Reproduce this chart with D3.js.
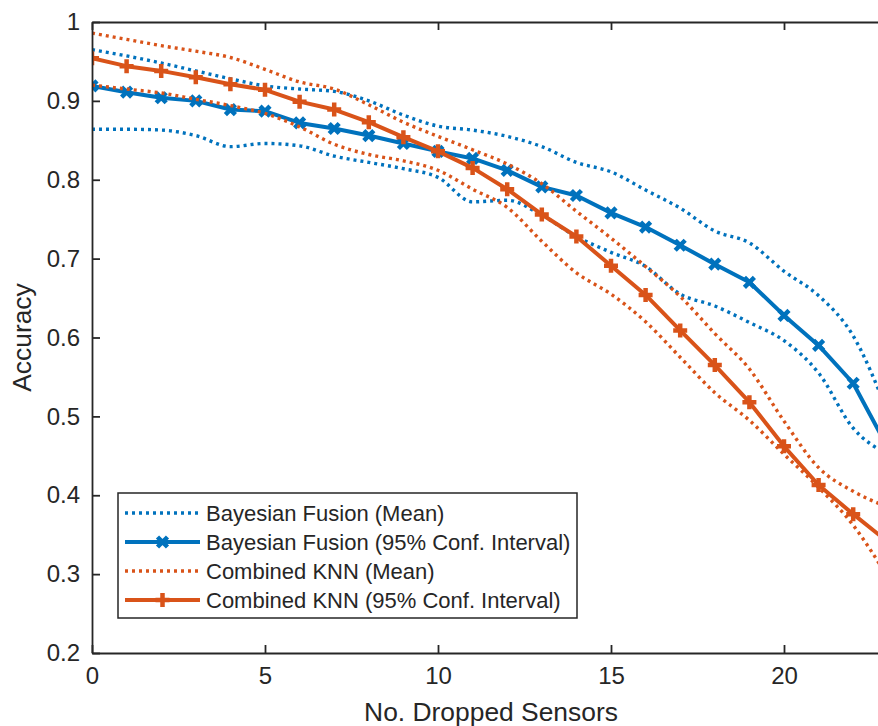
<!DOCTYPE html>
<html>
<head>
<meta charset="utf-8">
<script src="https://cdn.jsdelivr.net/npm/d3@7"></script>
<style>
  body { margin: 0; background: #fff; }
  svg { display: block; overflow: hidden; }
  text { font-family: "Liberation Sans", Arial, sans-serif; fill: #262626; }
</style>
</head>
<body>
<svg id="chart" width="878" height="726"></svg>
<script>
// dropped sensors (x)
var drops = [0,1,2,3,4,5,6,7,8,9,10,11,12,13,14,15,16,17,18,19,20,21,22,23]

// Bayesian fusion
var bayesUpper = [0.965,0.957,0.948,0.938,0.928,0.919,0.915,0.912,0.900,0.882,0.868,0.863,0.855,0.842,0.822,0.810,0.787,0.764,0.735,0.720,0.684,0.653,0.602,0.505]
var bayesMid   = [0.919,0.911,0.904,0.900,0.889,0.887,0.872,0.865,0.856,0.846,0.836,0.827,0.812,0.791,0.780,0.758,0.740,0.717,0.693,0.670,0.628,0.590,0.542,0.460]
var bayesLower = [0.864,0.864,0.863,0.856,0.842,0.846,0.843,0.830,0.822,0.814,0.803,0.772,0.774,0.755,0.728,0.708,0.690,0.655,0.640,0.619,0.596,0.555,0.485,0.452]

// combined KNN
var knnUpper = [0.986,0.978,0.970,0.963,0.955,0.940,0.924,0.915,0.895,0.873,0.855,0.838,0.820,0.795,0.760,0.726,0.690,0.652,0.605,0.560,0.494,0.435,0.405,0.385]
var knnMid   = [0.954,0.944,0.938,0.930,0.921,0.914,0.899,0.889,0.873,0.854,0.836,0.815,0.788,0.756,0.728,0.691,0.654,0.609,0.565,0.518,0.462,0.413,0.376,0.341]
var knnLower = [0.920,0.915,0.910,0.902,0.894,0.884,0.867,0.845,0.832,0.824,0.812,0.788,0.765,0.722,0.682,0.655,0.620,0.575,0.530,0.495,0.452,0.410,0.362,0.296]

var xTicks = [0,5,10,15,20]
var yTicks = [0.2,0.3,0.4,0.5,0.6,0.7,0.8,0.9,1]

var legendLabels = ["Bayesian Fusion (Mean)", "Bayesian Fusion (95% Conf. Interval)",
                    "Combined KNN (Mean)", "Combined KNN (95% Conf. Interval)"]

var blue = "#0072BD", orange = "#D95319", axisCol = "#262626"

var svg = d3.select("#chart")
var margin = ({top: 22, left: 92, bottom: 653})

var x = d3.scaleLinear().domain([0, 25]).range([margin.left, margin.left + 25 * 34.6])
var y = d3.scaleLinear().domain([0.2, 1]).range([margin.bottom, margin.top])

svg.append("clipPath").attr("id", "plotClip")
  .append("rect")
    .attr("x", x(0)).attr("y", y(1))
    .attr("width", x(25) - x(0)).attr("height", y(0.2) - y(1))

var plot = svg.append("g").attr("clip-path", "url(#plotClip)")

function series(vals) { return drops.map((d, i) => ({x: d, v: vals[i]})) }

var smooth = d3.line().curve(d3.curveMonotoneX).x(d => x(d.x)).y(d => y(d.v))
var straight = d3.line().x(d => x(d.x)).y(d => y(d.v))

function dotted(vals, col) {
  plot.append("path")
    .datum(series(vals))
    .attr("fill", "none")
    .attr("stroke", col)
    .attr("stroke-width", 3.4)
    .attr("stroke-dasharray", "3,4")
    .attr("d", smooth)
}

function markerPath(type, cx, cy) {
  var s = type == "x" ? 5 : 7
  if (type == "x") return `M${cx - s},${cy - s}L${cx + s},${cy + s}M${cx - s},${cy + s}L${cx + s},${cy - s}`
  return `M${cx - s},${cy}L${cx + s},${cy}M${cx},${cy - s}L${cx},${cy + s}`
}

function solid(vals, col, type) {
  plot.append("path")
    .datum(series(vals))
    .attr("fill", "none")
    .attr("stroke", col)
    .attr("stroke-width", 4)
    .attr("stroke-linejoin", "round")
    .attr("d", straight)
  plot.append("g")
    .selectAll("path")
    .data(series(vals))
    .join("path")
      .attr("d", d => markerPath(type, x(d.x), y(d.v)))
      .attr("stroke", col)
      .attr("stroke-width", 4.5)
      .attr("fill", "none")
}

dotted(bayesUpper, blue)
dotted(bayesLower, blue)
solid(bayesMid, blue, "x")
dotted(knnUpper, orange)
dotted(knnLower, orange)
solid(knnMid, orange, "+")

// axes (box: left, top, bottom; right side is outside the picture)
var fmt = d3.format("~g")

var yAxis = g => g
  .attr("transform", `translate(${margin.left},0)`)
  .call(d3.axisLeft(y).tickValues(yTicks).tickFormat(fmt).tickSizeInner(-8).tickSizeOuter(0).tickPadding(12))

var xAxis = g => g
  .attr("transform", `translate(0,${margin.bottom})`)
  .call(d3.axisBottom(x).tickValues(xTicks).tickFormat(fmt).tickSizeInner(-8).tickSizeOuter(0).tickPadding(14))

var topAxis = g => g
  .attr("transform", `translate(0,${margin.top})`)
  .call(d3.axisTop(x).tickValues(xTicks).tickFormat("").tickSizeInner(-8).tickSizeOuter(0))

;[yAxis, xAxis, topAxis].forEach(a => {
  svg.append("g").call(a)
    .call(g => g.selectAll("path, line").attr("stroke", axisCol).attr("stroke-width", 1.8))
    .call(g => g.selectAll("text").attr("fill", axisCol).style("font-size", "24px")
                .style("font-family", "'Liberation Sans', Arial, sans-serif"))
})

svg.append("text")
  .attr("x", 491)
  .attr("y", 721)
  .attr("text-anchor", "middle")
  .style("font-size", "26.4px")
  .text("No. Dropped Sensors")

svg.append("text")
  .attr("transform", `translate(31,${(y(0.2) + y(1)) / 2}) rotate(-90)`)
  .attr("text-anchor", "middle")
  .style("font-size", "26.4px")
  .text("Accuracy")

// legend
var legend = svg.append("g")
legend.append("rect")
  .attr("x", 118).attr("y", 493).attr("width", 459).attr("height", 125)
  .attr("fill", "#fff").attr("stroke", axisCol).attr("stroke-width", 1.5)

var legendStyle = [
  {col: blue, dash: true},
  {col: blue, dash: false, marker: "x"},
  {col: orange, dash: true},
  {col: orange, dash: false, marker: "+"}
]

legendLabels.forEach((lab, i) => {
  var ly = 513 + i * 29
  var st = legendStyle[i]
  legend.append("line")
    .attr("x1", 125).attr("x2", 200).attr("y1", ly).attr("y2", ly)
    .attr("stroke", st.col)
    .attr("stroke-width", st.dash ? 3.4 : 4)
    .attr("stroke-dasharray", st.dash ? "3,4" : null)
  if (st.marker) {
    legend.append("path")
      .attr("d", markerPath(st.marker, 162.5, ly))
      .attr("stroke", st.col).attr("stroke-width", 4.5).attr("fill", "none")
  }
  legend.append("text")
    .attr("x", 206).attr("y", ly)
    .attr("dy", "0.35em")
    .style("font-size", "22px")
    .text(lab)
})
</script>
</body>
</html>
